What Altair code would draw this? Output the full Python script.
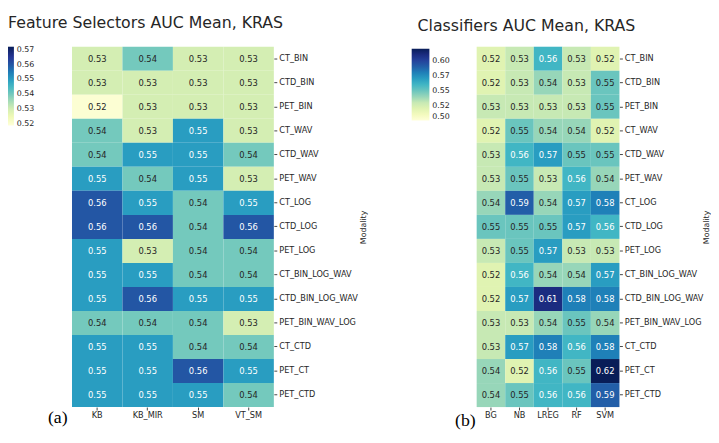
import altair as alt
import pandas as pd

modalities = ["CT_BIN", "CTD_BIN", "PET_BIN", "CT_WAV", "CTD_WAV", "PET_WAV",
              "CT_LOG", "CTD_LOG", "PET_LOG", "CT_BIN_LOG_WAV", "CTD_BIN_LOG_WAV",
              "PET_BIN_WAV_LOG", "CT_CTD", "PET_CT", "PET_CTD"]

fs_methods = ["KB", "KB_MIR", "SM", "VT_SM"]
fs_auc = [
    [0.53, 0.54, 0.53, 0.53],
    [0.53, 0.53, 0.53, 0.53],
    [0.52, 0.53, 0.53, 0.53],
    [0.54, 0.53, 0.55, 0.53],
    [0.54, 0.55, 0.55, 0.54],
    [0.55, 0.54, 0.55, 0.53],
    [0.56, 0.55, 0.54, 0.55],
    [0.56, 0.56, 0.54, 0.56],
    [0.55, 0.53, 0.54, 0.54],
    [0.55, 0.55, 0.54, 0.54],
    [0.55, 0.56, 0.55, 0.55],
    [0.54, 0.54, 0.54, 0.53],
    [0.55, 0.55, 0.54, 0.54],
    [0.55, 0.55, 0.56, 0.55],
    [0.55, 0.55, 0.55, 0.54],
]

clf_methods = ["BG", "NB", "LREG", "RF", "SVM"]
clf_auc = [
    [0.52, 0.53, 0.56, 0.53, 0.52],
    [0.52, 0.53, 0.54, 0.53, 0.55],
    [0.53, 0.53, 0.53, 0.53, 0.55],
    [0.52, 0.55, 0.54, 0.54, 0.52],
    [0.53, 0.56, 0.57, 0.55, 0.55],
    [0.53, 0.55, 0.53, 0.56, 0.54],
    [0.54, 0.59, 0.54, 0.57, 0.58],
    [0.55, 0.55, 0.55, 0.57, 0.56],
    [0.53, 0.55, 0.57, 0.53, 0.53],
    [0.52, 0.56, 0.54, 0.54, 0.57],
    [0.52, 0.57, 0.61, 0.58, 0.58],
    [0.53, 0.53, 0.54, 0.55, 0.54],
    [0.53, 0.57, 0.58, 0.56, 0.58],
    [0.54, 0.52, 0.56, 0.55, 0.62],
    [0.54, 0.55, 0.56, 0.56, 0.59],
]

fs_color_range = [0.519, 0.572]
clf_color_range = [0.50, 0.62]
fs_legend_ticks = [0.52, 0.53, 0.54, 0.55, 0.56, 0.57]
clf_legend_ticks = [0.50, 0.525, 0.55, 0.575, 0.60]

ylgnbu = ["#ffffd9", "#edf8b1", "#c7e9b4", "#7fcdbb", "#41b6c4",
          "#1d91c0", "#225ea8", "#253494", "#081d58"]

TXT = "#262626"


def to_long(methods, values):
    rows = []
    for mod, row in zip(modalities, values):
        for meth, v in zip(methods, row):
            rows.append({"Modality": mod, "Method": meth, "AUC": v})
    return pd.DataFrame(rows)


def stops(lo_hi):
    lo, hi = lo_hi
    n = len(ylgnbu) - 1
    return [lo + (hi - lo) * i / n for i in range(n + 1)]


def heatmap(df, methods, title, title_dx, title_offset, lo_hi, ticks,
            legend_x, legend_y, thickness, length, white_at, width,
            letter, letter_x, letter_y, title_pad):
    x = alt.X("Method:N", sort=methods,
              axis=alt.Axis(orient="bottom", labelAngle=0, domain=False,
                            tickSize=3, tickColor="#444", labelPadding=1,
                            labelFontSize=8.3, labelColor=TXT, labelFont="DejaVu Sans",
                            title=letter, titleFont="Liberation Serif",
                            titleFontSize=18, titleFontWeight="normal",
                            titleColor="black", titleX=letter_x, titleY=letter_y,
                            titleAlign="center", titleBaseline="middle"))
    y = alt.Y("Modality:N", sort=modalities,
              axis=alt.Axis(orient="right", domain=False, tickSize=3,
                            tickColor="#444", labelPadding=2, labelFontSize=8.3,
                            labelColor=TXT, labelFont="DejaVu Sans",
                            title="Modality", titleAngle=270, titlePadding=title_pad,
                            titleFontSize=8, titleFontWeight="normal",
                            titleFont="DejaVu Sans", titleColor=TXT))
    base = alt.Chart(df).encode(x=x, y=y)
    rect = base.mark_rect().encode(
        color=alt.Color("AUC:Q",
                        scale=alt.Scale(domain=stops(lo_hi), range=ylgnbu,
                                        interpolate="rgb"),
                        legend=alt.Legend(title=None, orient="none",
                                          direction="vertical",
                                          legendX=legend_x, legendY=legend_y,
                                          gradientThickness=thickness,
                                          gradientLength=length,
                                          gradientStrokeWidth=0,
                                          values=ticks, labelOverlap=False,
                                          labelFontSize=8, labelColor=TXT,
                                          labelFont="DejaVu Sans", labelOffset=3,
                                          padding=0,
                                          labelExpr="format(floor(datum.value*100+0.000001)/100, '.2f')"))
    )
    text = base.mark_text(fontSize=8.5, font="DejaVu Sans").encode(
        text=alt.Text("AUC:Q", format=".2f"),
        color=alt.condition(alt.datum.AUC >= white_at, alt.value("white"), alt.value(TXT)),
    )
    return alt.layer(rect, text).properties(
        width=width, height=366,
        title=alt.Title(title, anchor="start", dx=title_dx, offset=title_offset,
                        fontSize=16, font="DejaVu Sans", fontWeight="normal",
                        color=TXT, frame="group"),
    )


left = heatmap(to_long(fs_methods, fs_auc), fs_methods,
               "Feature Selectors AUC Mean, KRAS", -65, 16,
               fs_color_range, fs_legend_ticks, -65, 0, 6, 80, 0.545, 205,
               "(a)", -15, 11, 10)
right = heatmap(to_long(clf_methods, clf_auc), clf_methods,
                "Classifiers AUC Mean, KRAS", -60, 13,
                clf_color_range, clf_legend_ticks, -66, 2, 18, 73, 0.555, 145,
                "(b)", -12, 14, 8)

chart = alt.hconcat(left, right, spacing=45).resolve_scale(color="independent").properties(
    padding={"left": 0, "top": 4, "right": 0, "bottom": 0}
).configure_view(stroke=None)

chart.save("out.html", embed_options={"renderer": "svg", "actions": False})
